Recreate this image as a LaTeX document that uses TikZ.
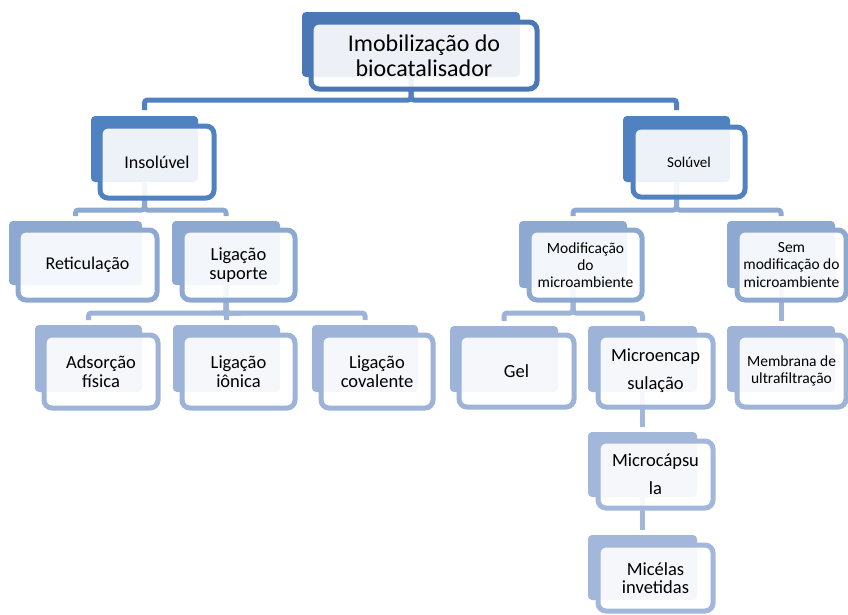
\documentclass[tikz,border=0pt]{standalone}
\usepackage{fontspec}
\setmainfont{Carlito}
\usetikzlibrary{calc}
\definecolor{cA}{HTML}{4A77B5}
\definecolor{cB}{HTML}{5081C0}
\definecolor{cC}{HTML}{8EA9D1}
\definecolor{cD}{HTML}{9DB3D8}
\definecolor{cE}{HTML}{A2B7DA}
\newcommand\fsz[2]{\fontsize{#1}{#2}\selectfont}
\tikzset{
 bk/.style={fill=#1, rounded corners=4pt, inner sep=0pt, outer sep=0pt, draw=none},
 fr/.style={draw=#1, line width=5pt, rounded corners=8pt, fill=white, fill opacity=0.9, text opacity=1, inner sep=0pt, outer sep=0pt, align=center, text=black},
 cn/.style={draw=#1, line width=5pt, rounded corners=3pt},
}
\begin{document}
\begin{tikzpicture}[x=1pt,y=-1pt]
\useasboundingbox (0,0) rectangle (848,614);
% back shapes
\node[bk=cA, minimum width=218, minimum height=65] (top) at (411,44.5) {};
\node[bk=cB, minimum width=107, minimum height=66] (insol) at (144.5,149) {};
\node[bk=cB, minimum width=107, minimum height=66] (sol) at (676.5,149) {};
\node[bk=cC, minimum width=133, minimum height=64] (retic) at (75.5,253) {};
\node[bk=cC, minimum width=108, minimum height=64] (ligsup) at (226,253) {};
\node[bk=cC, minimum width=108, minimum height=67] (modif) at (573,254.5) {};
\node[bk=cC, minimum width=108, minimum height=67] (sem) at (781,254.5) {};
\node[bk=cD, minimum width=107, minimum height=67] (adsor) at (88.5,358.5) {};
\node[bk=cD, minimum width=107, minimum height=67] (ligion) at (226.5,358.5) {};
\node[bk=cD, minimum width=106, minimum height=67] (ligcov) at (365,358.5) {};
\node[bk=cD, minimum width=108, minimum height=66] (gel) at (504,359) {};
\node[bk=cD, minimum width=109, minimum height=66] (microenc) at (642.5,359) {};
\node[bk=cD, minimum width=108, minimum height=66] (membr) at (781,359) {};
\node[bk=cE, minimum width=109, minimum height=65] (microcap) at (642.5,464.5) {};
\node[bk=cE, minimum width=109, minimum height=65] (micelas) at (642.5,567.5) {};
% bus levels
\coordinate (b1) at (0,100);
\coordinate (b2) at (0,210);
\coordinate (b3) at (0,313);
% connectors
\draw[cn=cB] (top.south) -- (top.south |- b1) -| ($(insol.north)+(0,-6)$);
\draw[cn=cB] (top.south) -- (top.south |- b1) -| ($(sol.north)+(0,-6)$);
\draw[cn=cC] (insol.south) -- (insol.south |- b2) -| ($(retic.north)+(0,-5)$);
\draw[cn=cC] (insol.south) -- (insol.south |- b2) -| ($(ligsup.north)+(0,-5)$);
\draw[cn=cC] (sol.south) -- (sol.south |- b2) -| ($(modif.north)+(0,-5)$);
\draw[cn=cC] (sol.south) -- (sol.south |- b2) -| ($(sem.north)+(0,-5)$);
\draw[cn=cD] (ligsup.south) -- (ligsup.south |- b3) -| ($(adsor.north)+(0,-5)$);
\draw[cn=cD] (ligsup.south) -- (ligsup.south |- b3) -| ($(ligion.north)+(0,-5)$);
\draw[cn=cD] (ligsup.south) -- (ligsup.south |- b3) -| ($(ligcov.north)+(0,-5)$);
\draw[cn=cD] (modif.south) -- (modif.south |- b3) -| ($(gel.north)+(0,-5)$);
\draw[cn=cD] (modif.south) -- (modif.south |- b3) -| ($(microenc.north)+(0,-5)$);
\draw[cn=cD] (sem.south) -- ($(membr.north)+(0,-5)$);
\draw[cn=cE] (microenc.south) -- ($(microcap.north)+(0,-5)$);
\draw[cn=cE] (microcap.south) -- ($(micelas.north)+(0,-5)$);
% front boxes with text
\node[fr=cA, minimum width=226, minimum height=67, font=\fsz{24}{25}] (top-t) at (424,55.5) {Imobilização do\\biocatalisador};
\node[fr=cB, minimum width=114, minimum height=72, font=\fsz{18}{20}] (insol-t) at (157,162) {Insolúvel};
\node[fr=cB, minimum width=112, minimum height=70, font=\fsz{15}{17}] (sol-t) at (689,162) {Solúvel};
\node[fr=cC, minimum width=139, minimum height=70, font=\fsz{18}{19}] (retic-t) at (87.5,265) {Reticulação};
\node[fr=cC, minimum width=113, minimum height=70, font=\fsz{18.5}{18.5}] (ligsup-t) at (238.5,265) {Ligação\\suporte};
\node[fr=cC, minimum width=113, minimum height=70, font=\fsz{15.5}{17.2}] (modif-t) at (585.5,265) {Modificação\\do\\microambiente};
\node[fr=cC, minimum width=109, minimum height=70, font=\fsz{15.5}{17.2}] (sem-t) at (791.5,265) {Sem\\modificação do\\microambiente};
\node[fr=cD, minimum width=114, minimum height=73, font=\fsz{18.5}{19}] (adsor-t) at (101,371.5) {Adsorção\\física};
\node[fr=cD, minimum width=113, minimum height=73, font=\fsz{18.5}{19}] (ligion-t) at (238.5,371.5) {Ligação\\iônica};
\node[fr=cD, minimum width=112, minimum height=73, font=\fsz{18.5}{19}] (ligcov-t) at (377,371.5) {Ligação\\covalente};
\node[fr=cD, minimum width=115, minimum height=72, font=\fsz{18.5}{19}] (gel-t) at (516.5,371) {Gel};
\node[fr=cD, minimum width=115, minimum height=72, font=\fsz{18.5}{28}] (microenc-t) at (655.5,371) {Microencap\\sulação};
\node[fr=cD, minimum width=109, minimum height=72, font=\fsz{15.5}{17}] (membr-t) at (791.5,371) {Membrana de\\ultrafiltração};
\node[fr=cE, minimum width=115, minimum height=67, font=\fsz{18.5}{28}] (microcap-t) at (655.5,474.5) {Microcápsu\\la};
\node[fr=cE, minimum width=115, minimum height=66, font=\fsz{18.5}{18.5}] (micelas-t) at (655.5,578) {Micélas\\invetidas};
\end{tikzpicture}
\end{document}
